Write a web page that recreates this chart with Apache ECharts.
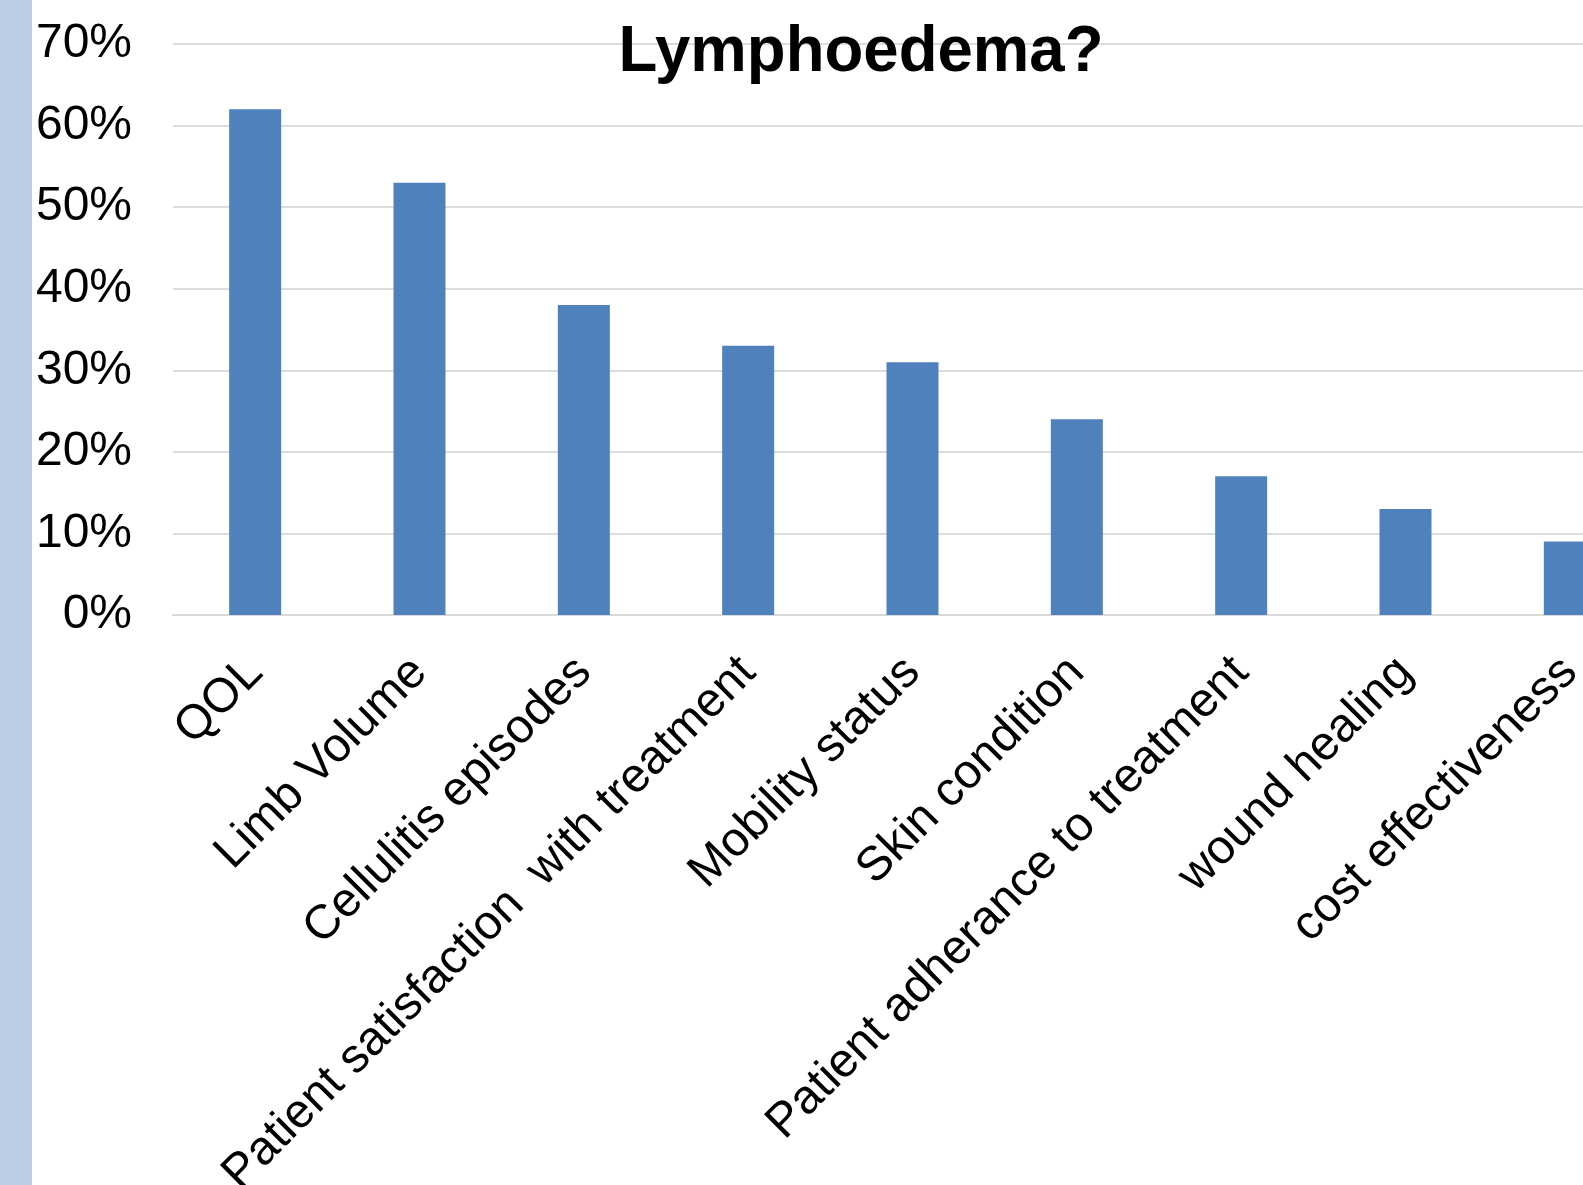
<!DOCTYPE html>
<html>
<head>
<meta charset="utf-8">
<script src="https://cdn.jsdelivr.net/npm/echarts@6/dist/echarts.min.js"></script>
<style>
  html, body { margin: 0; padding: 0; background: #ffffff; overflow: hidden; width: 1583px; height: 1185px; }
  #chart { width: 1660px; height: 1185px; }
</style>
</head>
<body>
<div id="chart"></div>
<script>
const categories = [
  'QOL',
  'Limb Volume',
  'Cellulitis episodes',
  'Patient satisfaction  with treatment',
  'Mobility status',
  'Skin condition',
  'Patient adherance to treatment',
  'wound healing',
  'cost effectiveness'
];
const values = [62, 53, 38, 33, 31, 24, 17, 13, 9];
const titleText = 'Lymphoedema?';
const yMin = 0, yMax = 70, yStep = 10;

const chart = echarts.init(document.getElementById('chart'), null, { renderer: 'canvas' });
chart.setOption({
  animation: false,
  backgroundColor: '#ffffff',
  graphic: [
    { type: 'rect', left: 0, top: 0, shape: { width: 32, height: 1185 }, style: { fill: '#bccfe6' }, z: -1 },
    {
      type: 'text', x: 861, y: 21, scaleX: 0.978, originX: 0, originY: 0,
      style: { text: titleText, font: 'bold 65px "Liberation Sans", Arial, sans-serif', fill: '#000000', align: 'center', verticalAlign: 'top' },
      z: 10
    }
  ],
  grid: { left: 173, top: 44, width: 1479, bottom: 570, containLabel: false, outerBoundsMode: 'none' },
  xAxis: {
    type: 'category',
    data: categories,
    axisTick: { show: false },
    axisLine: { show: true, lineStyle: { color: '#d9d9d9', width: 2 } },
    axisLabel: {
      interval: 0, rotate: 45, margin: 50, hideOverlap: false,
      fontFamily: '"Liberation Sans", Arial, sans-serif', fontSize: 48, color: '#000000'
    }
  },
  yAxis: {
    type: 'value', min: yMin, max: yMax, interval: yStep,
    axisLine: { show: false }, axisTick: { show: false },
    splitLine: { lineStyle: { color: '#dcdcdc', width: 2 } },
    axisLabel: {
      formatter: '{value}%', margin: 41, padding: [6, 0, 0, 0],
      fontFamily: '"Liberation Sans", Arial, sans-serif', fontSize: 48, color: '#000000'
    }
  },
  series: [{
    type: 'bar', data: values, barWidth: 52,
    itemStyle: { color: '#4f81bd' }
  }]
});
</script>
</body>
</html>
